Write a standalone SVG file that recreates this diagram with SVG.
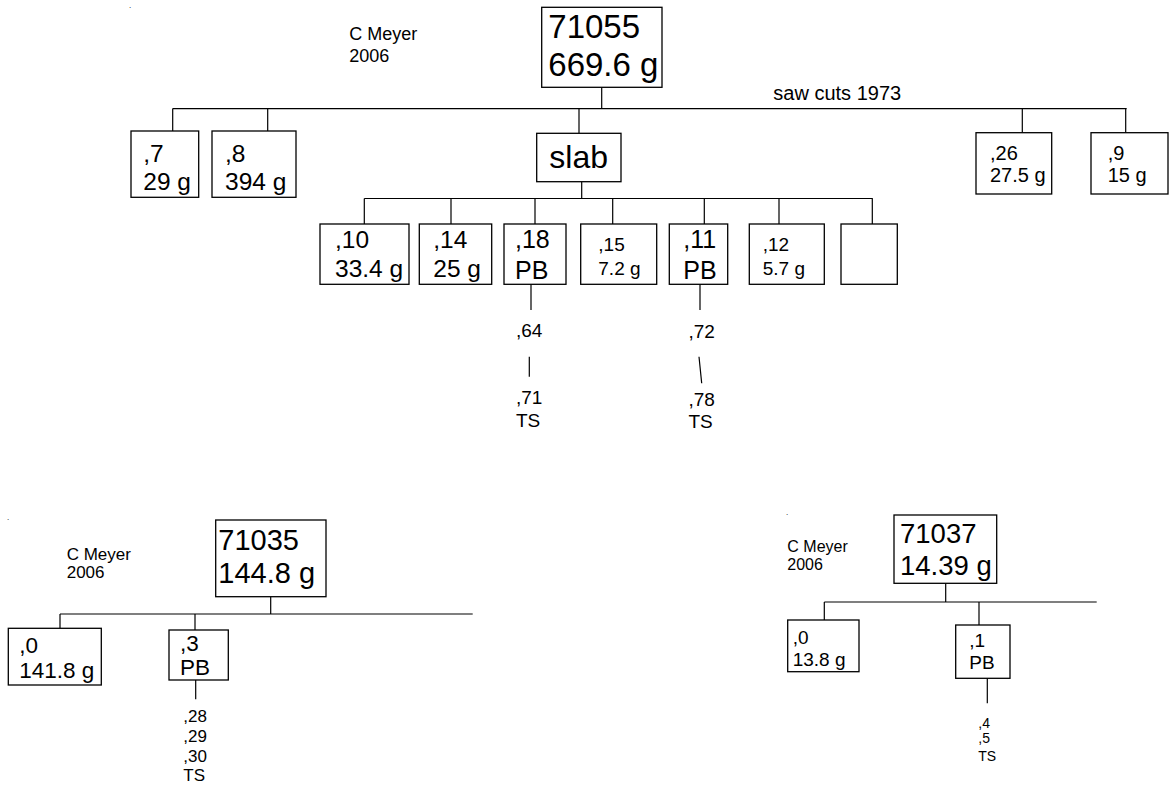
<svg xmlns="http://www.w3.org/2000/svg" width="1169" height="785" viewBox="0 0 1169 785">
<style>
text{font-family:"Liberation Sans",Arial,sans-serif;fill:#000}
.box{fill:#fff;stroke:#000;stroke-width:1.3}
.ln{fill:none;stroke:#000;stroke-width:1.2}
.f33{font-size:33px}.f32{font-size:32px}.f29{font-size:29px}.f27{font-size:27.5px}
.f25{font-size:25px}.f24{font-size:24.5px}.f22{font-size:22.5px}.f20{font-size:20px}
.f19{font-size:19px}.f18{font-size:18px}.f17{font-size:17px}.f16{font-size:16px}.f14{font-size:14px}
.dot{font-size:8px}
</style>
<rect width="1169" height="785" fill="#fff"/>
<g id="connectors">
<path class="ln" d="M601.7,87.3V108.6M172.7,108.6H1126.7M172.7,108.6V131M267.7,108.6V131M579,108.6V133.3M1022.3,108.6V132.7M1125.7,108.6V132.7"/>
<path class="ln" d="M581.7,181.7V198.5M364.3,198.5H872.8M364.3,198.5V224M451,198.5V224M535,198.5V224M612.7,198.5V224M704.3,198.5V224M779,198.5V224M872.3,198.5V224"/>
<path class="ln" d="M531,284.3V310M529.3,356.7V376.7M700,284.3V310M699,356.7L701.7,383.3"/>
<path class="ln" d="M270.7,596.7V614M60,614H472.7M60,614V628.3M195,614V630M195.7,680V699.3"/>
<path class="ln" d="M945.7,583.3V602M824.3,602H1096.7M824.3,602V620M979,602V625M987.3,678.3V703.3"/>
</g>
<g id="credit-top"><text class="dot" x="129" y="8">.</text><text class="f18" x="349.3" y="40">C Meyer</text><text class="f18" x="349.3" y="61.7">2006</text></g>
<g id="n71055"><rect class="box" x="541.7" y="7.3" width="120.3" height="80"/><text class="f33" x="548.3" y="38.3">71055</text><text class="f33" x="548.3" y="76">669.6 g</text></g>
<g id="sawcuts"><text class="f20" x="773.3" y="100">saw cuts 1973</text></g>
<g id="n7"><rect class="box" x="131" y="131" width="67.7" height="66.3"/><text class="f24" x="143.3" y="161.7">,7</text><text class="f24" x="143.3" y="190">29 g</text></g>
<g id="n8"><rect class="box" x="212" y="131" width="84" height="66.3"/><text class="f24" x="225" y="161.7">,8</text><text class="f24" x="225" y="190">394 g</text></g>
<g id="slab"><rect class="box" x="536.7" y="133.3" width="84.3" height="48.4"/><text class="f32" x="549.3" y="168.3">slab</text></g>
<g id="n26"><rect class="box" x="976" y="132.7" width="75.7" height="61.3"/><text class="f20" x="990" y="160">,26</text><text class="f20" x="990" y="181.7">27.5 g</text></g>
<g id="n9"><rect class="box" x="1091" y="132.7" width="77" height="61.3"/><text class="f20" x="1107.7" y="160">,9</text><text class="f20" x="1107.7" y="181.7">15 g</text></g>
<g id="n10"><rect class="box" x="320" y="224" width="89" height="60.3"/><text class="f24" x="335" y="248.3">,10</text><text class="f24" x="335" y="277.3">33.4 g</text></g>
<g id="n14"><rect class="box" x="419.3" y="224" width="72.4" height="60.3"/><text class="f24" x="433.3" y="248.3">,14</text><text class="f24" x="433.3" y="277.3">25 g</text></g>
<g id="n18"><rect class="box" x="504" y="224" width="62" height="60.3"/><text class="f25" x="515" y="248.3">,18</text><text class="f25" x="515" y="279.3">PB</text></g>
<g id="n15"><rect class="box" x="580.7" y="224" width="76" height="60.3"/><text class="f19" x="598.3" y="251">,15</text><text class="f19" x="598.3" y="275">7.2 g</text></g>
<g id="n11"><rect class="box" x="669.3" y="224" width="58.4" height="60.3"/><text class="f25" x="683.3" y="248.3">,11</text><text class="f25" x="683.3" y="279.3">PB</text></g>
<g id="n12"><rect class="box" x="749.3" y="224" width="75" height="60.3"/><text class="f19" x="762.7" y="251">,12</text><text class="f19" x="762.7" y="275">5.7 g</text></g>
<g id="nempty"><rect class="box" x="841" y="224" width="56.3" height="60.3"/></g>
<g id="n64"><text class="f19" x="516" y="337.3">,64</text></g>
<g id="n71"><text class="f19" x="516" y="404">,71</text><text class="f19" x="516" y="426.7">TS</text></g>
<g id="n72"><text class="f19" x="688.5" y="338.3">,72</text></g>
<g id="n78"><text class="f19" x="688.5" y="406">,78</text><text class="f19" x="688.5" y="428.3">TS</text></g>
<g id="credit-bl"><text class="dot" x="7" y="520">.</text><text class="f17" x="66.7" y="560">C Meyer</text><text class="f17" x="66.7" y="578.3">2006</text></g>
<g id="n71035"><rect class="box" x="215.7" y="520" width="110.3" height="76.7"/><text class="f29" x="218.3" y="550">71035</text><text class="f29" x="218.3" y="583.3">144.8 g</text></g>
<g id="n35-0"><rect class="box" x="8.3" y="628.3" width="93" height="56.7"/><text class="f22" x="19.3" y="653.3">,0</text><text class="f22" x="19.3" y="678.3">141.8 g</text></g>
<g id="n35-3"><rect class="box" x="169" y="630" width="59.3" height="50"/><text class="f22" x="180" y="651">,3</text><text class="f22" x="180" y="675">PB</text></g>
<g id="n35-ts"><text class="f17" x="183.3" y="721.7">,28</text><text class="f17" x="183.3" y="741.7">,29</text><text class="f17" x="183.3" y="761.7">,30</text><text class="f17" x="183.3" y="781">TS</text></g>
<g id="credit-br"><text class="dot" x="786" y="515">.</text><text class="f16" x="787.3" y="551.7">C Meyer</text><text class="f16" x="787.3" y="570">2006</text></g>
<g id="n71037"><rect class="box" x="894" y="515" width="102.7" height="68.3"/><text class="f27" x="900" y="543.3">71037</text><text class="f27" x="900" y="575">14.39 g</text></g>
<g id="n37-0"><rect class="box" x="787.7" y="620" width="71.3" height="51.7"/><text class="f19" x="792.7" y="643.5">,0</text><text class="f19" x="792.7" y="666">13.8 g</text></g>
<g id="n37-1"><rect class="box" x="955.7" y="625" width="54.3" height="53.3"/><text class="f19" x="969.3" y="646.7">,1</text><text class="f19" x="969.3" y="669">PB</text></g>
<g id="n37-ts"><text class="f14" x="978.3" y="728.3">,4</text><text class="f14" x="978.3" y="743.3">,5</text><text class="f14" x="978.3" y="760.7">TS</text></g>
</svg>
